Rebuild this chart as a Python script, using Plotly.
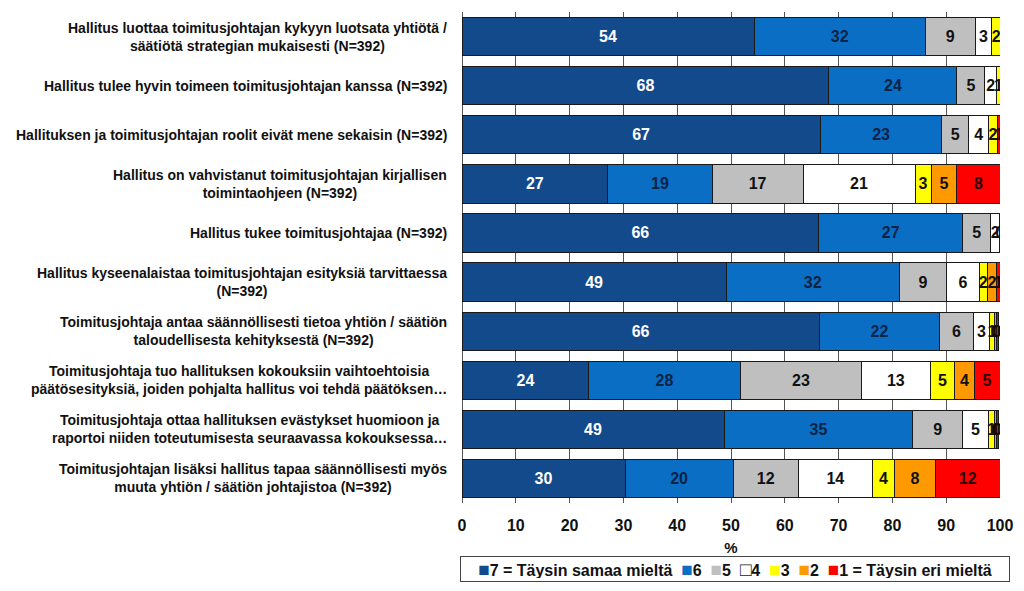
import plotly.graph_objects as go

categories = [
    "Hallitus luottaa toimitusjohtajan kykyyn luotsata yhtiötä /<br>säätiötä strategian mukaisesti (N=392)",
    "Hallitus tulee hyvin toimeen toimitusjohtajan kanssa (N=392)",
    "Hallituksen ja toimitusjohtajan roolit eivät mene sekaisin (N=392)",
    "Hallitus on vahvistanut toimitusjohtajan kirjallisen<br>toimintaohjeen (N=392)",
    "Hallitus tukee toimitusjohtajaa (N=392)",
    "Hallitus kyseenalaistaa toimitusjohtajan esityksiä tarvittaessa<br>(N=392)",
    "Toimitusjohtaja antaa säännöllisesti tietoa yhtiön / säätiön<br>taloudellisesta kehityksestä (N=392)",
    "Toimitusjohtaja tuo hallituksen kokouksiin vaihtoehtoisia<br>päätösesityksiä, joiden pohjalta hallitus voi tehdä päätöksen…",
    "Toimitusjohtaja ottaa hallituksen evästykset huomioon ja<br>raportoi niiden toteutumisesta seuraavassa kokouksessa…",
    "Toimitusjohtajan lisäksi hallitus tapaa säännöllisesti myös<br>muuta yhtiön / säätiön johtajistoa (N=392)",
]

series_names = ["7 = Täysin samaa mieltä", "6", "5", "4", "3", "2", "1 = Täysin eri mieltä"]

v7 = [54.3, 68.2, 66.6, 27.1, 66.3, 49.1, 66.4, 23.6, 48.7, 30.3]
v6 = [31.8, 23.8, 22.6, 19.4, 26.8, 32.2, 22.4, 28.1, 35.1, 20.1]
v5 = [9.3, 5.2, 5.0, 16.9, 5.2, 8.8, 6.2, 22.6, 9.3, 12.1]
v4 = [3.1, 2.2, 3.7, 20.8, 1.6, 6.0, 3.1, 12.7, 4.7, 13.8]
v3 = [1.6, 0.6, 1.6, 3.0, 0.1, 1.6, 0.8, 4.6, 1.2, 4.1]
v2 = [None, None, None, 4.8, None, 1.6, 0.4, 3.6, 0.4, 7.6]
v1 = [None, None, 0.6, 8.0, None, 0.8, 0.4, 4.8, 0.4, 12.0]

series_values = [v7, v6, v5, v4, v3, v2, v1]
colors = ["#124A8C", "#0A6FC4", "#BFBFBF", "#FFFFFF", "#FFFF00", "#FF9900", "#FF0000"]
text_colors = ["#FFFFFF", "#0B2345", "#111111", "#111111", "#111111", "#111111", "#2A0000"]

x_ticks = [0, 10, 20, 30, 40, 50, 60, 70, 80, 90, 100]

FONT = "Liberation Sans, Arial, sans-serif"

fig = go.Figure()
for name, vals, col, tcol in zip(series_names, series_values, colors, text_colors):
    fig.add_trace(go.Bar(
        y=categories, x=vals, name=name, orientation="h",
        marker=dict(color=col, line=dict(color="#1a1a1a", width=1)),
        texttemplate="<b>%{x:.0f}</b>", textposition="inside",
        insidetextanchor="middle", constraintext="none",
        textfont=dict(color=tcol, size=16, family=FONT),
        hoverinfo="skip", showlegend=False,
    ))

for cat in categories:
    fig.add_annotation(
        x=0, xref="paper", y=cat, yref="y", xanchor="right", xshift=-13,
        text="<b>" + cat + "</b>", showarrow=False, align="center",
        font=dict(size=14, color="#111111", family=FONT),
    )

# legend built as a single text line with coloured squares
parts = []
for name, col in zip(series_names, colors):
    if col.upper() == "#FFFFFF":
        sq = "<span style='color:#222222;font-size:19px'>□</span>"
    else:
        sq = "<span style='color:%s;font-size:19px'>■</span>" % col
    parts.append(sq + "<b>" + name + "</b>")
legend_text = "&nbsp;&nbsp;".join(parts)

PLOT_W = 538.0
PLOT_H = 491.0
fig.add_annotation(
    x=-2 / PLOT_W, xref="paper", y=-53 / PLOT_H, yref="paper",
    xanchor="left", yanchor="top", showarrow=False,
    text=legend_text, width=542, height=18, align="center",
    font=dict(size=16, color="#111111", family=FONT),
    bordercolor="#444444", borderwidth=1, borderpad=3, bgcolor="white",
)

fig.update_layout(
    barmode="stack", bargap=0.22,
    width=1008, height=575,
    margin=dict(l=454, r=16, t=4, b=80),
    paper_bgcolor="white", plot_bgcolor="white",
    font=dict(family=FONT, color="#111111"),
    showlegend=False,
    xaxis=dict(
        range=[0, 100], tickvals=x_ticks, ticktext=["<b>%d</b>" % t for t in x_ticks],
        showgrid=True, gridcolor="#555555", gridwidth=1,
        zeroline=True, zerolinecolor="#555555", zerolinewidth=1,
        ticks="outside", ticklen=8, tickcolor="rgba(0,0,0,0)",
        tickfont=dict(size=16, family=FONT, color="#111111"),
        title=dict(text="<b>%</b>", font=dict(size=15, family=FONT), standoff=9),
        fixedrange=True,
    ),
    yaxis=dict(autorange="reversed", showticklabels=False, showgrid=False, fixedrange=True),
)

fig.write_html("out.html")
